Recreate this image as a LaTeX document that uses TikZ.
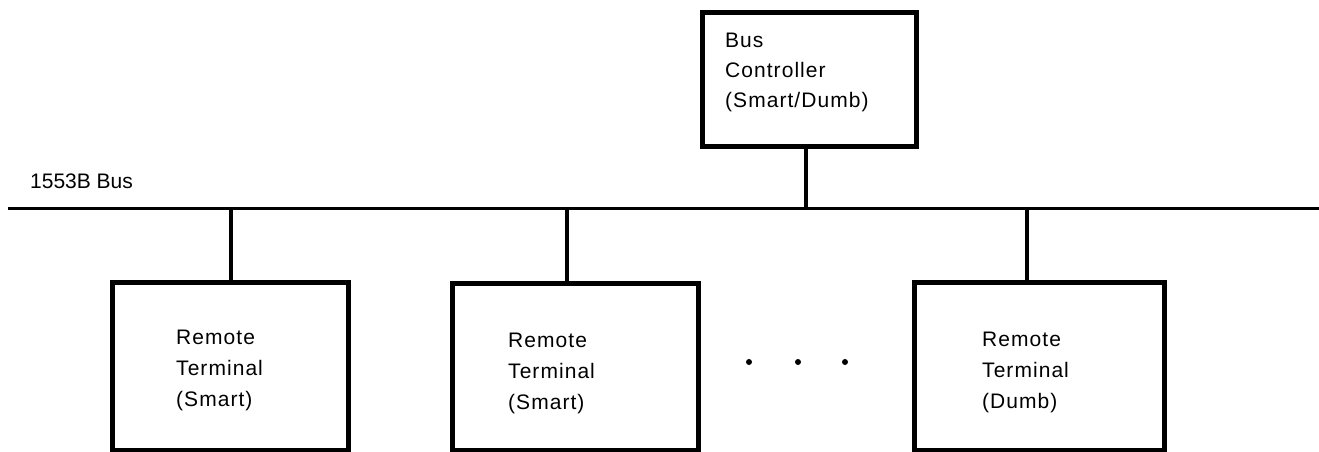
\documentclass[tikz,border=0pt]{standalone}
\usepackage{fontspec}
\setmainfont{Liberation Sans}
\newfontfamily\boxfont{Liberation Sans}[LetterSpace=5]
\begin{document}
\begin{tikzpicture}[x=1pt,y=-1pt,
  unit/.style={draw, rectangle, line width=5pt, inner sep=0pt},
  wire/.style={line width=3.5pt},
  buswire/.style={line width=3pt},
  boxtext/.style={anchor=north west, inner sep=0pt, align=left, font=\boxfont\fontsize{21}{31}\selectfont},
  dotnode/.style={circle, fill, inner sep=0pt, minimum size=6pt}]
\useasboundingbox (0,0) rectangle (1319,452);
% boxes
\node[unit, minimum width=214pt, minimum height=133pt] (bc) at (809,79.5) {};
\node[unit, minimum width=236pt, minimum height=168pt] (b1) at (230,366) {};
\node[unit, minimum width=246pt, minimum height=167pt] (b2) at (575,366.5) {};
\node[unit, minimum width=250pt, minimum height=168pt] (b3) at (1039,366) {};
% texts
\node[boxtext, font=\boxfont\fontsize{21}{30}\selectfont] (tbc) at (725,33) {Bus\\Controller\\(Smart/Dumb)};
\node[boxtext] (t1) at (176,330) {Remote\\Terminal\\(Smart)};
\node[boxtext] (t2) at (508,333) {Remote\\Terminal\\(Smart)};
\node[boxtext] (t3) at (982,332) {Remote\\Terminal\\(Dumb)};
\node[anchor=base west, inner sep=0pt, font=\fontsize{21}{25}\selectfont] (buslabel) at (30,188) {1553B Bus};
% bus
\coordinate (busL) at (8,208);
\coordinate (busR) at (1319,208);
\draw[buswire] (busL) -- (busR);
\coordinate (j1) at (231,208);
\coordinate (j2) at (567,208);
\coordinate (jc) at (806,208);
\coordinate (j3) at (1027,208);
\draw[wire] (j1) -- (j1 |- b1.north);
\draw[wire] (j2) -- (j2 |- b2.north);
\draw[wire] (jc) -- (jc |- bc.south);
\draw[wire] (j3) -- (j3 |- b3.north);
% dots
\node[dotnode] (d1) at (749,362) {};
\node[dotnode] (d2) at (798,362) {};
\node[dotnode] (d3) at (845,362) {};
\end{tikzpicture}
\end{document}
